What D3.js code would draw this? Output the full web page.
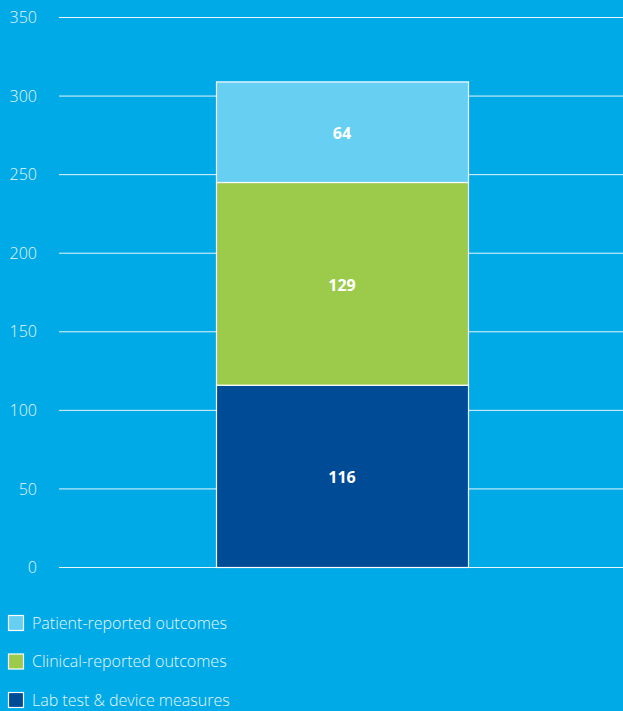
<!DOCTYPE html>
<html><head><meta charset="utf-8">
<script src="https://cdn.jsdelivr.net/npm/d3@7"></script>
<style>
html,body{margin:0;padding:0;background:#00aae6;}
svg{display:block;font-family:"Open Sans",sans-serif;}
</style></head>
<body>
<svg id="c" width="623" height="711"></svg>
<script>
const categories = ["All"];
const seriesNames = ["Lab test & device measures","Clinical-reported outcomes","Patient-reported outcomes"];
const seriesValues = [116,129,64];
const seriesColors = ["#004b96","#9ccb4b","#67cff2"];
const yTicks = [0,50,100,150,200,250,300,350];
const legendOrder = ["Patient-reported outcomes","Clinical-reported outcomes","Lab test & device measures"];

const svg = d3.select("#c");
const y = d3.scaleLinear().domain([0,350]).range([567,17]);
const barX0 = 216, barW = 252;

// axis labels
const axis = d3.axisLeft(y).tickValues(yTicks).tickSize(0).tickPadding(0);
const g = svg.append("g").attr("transform","translate(37,0)").call(axis)
  .attr("font-family","'Open Sans',sans-serif");
g.select(".domain").remove();
g.selectAll("text").attr("fill","#e6f6fc").attr("font-size",16).attr("font-weight",300).attr("dy","0.35em");
// gridlines
svg.append("g").selectAll("line").data(yTicks).join("line")
  .attr("x1",59).attr("x2",623).attr("y1",d=>y(d)+0.5).attr("y2",d=>y(d)+0.5)
  .attr("stroke","#ffffff").attr("stroke-width",1).attr("opacity",0.9);

// stacked bar
let cum = 0;
const stacks = seriesValues.map((v,i)=>{const s={v,i,y0:cum,y1:cum+v};cum+=v;return s;});
const bars = svg.append("g");
bars.selectAll("rect").data(stacks).join("rect")
  .attr("x",barX0+0.5).attr("width",barW)
  .attr("y",d=>y(d.y1)+0.5).attr("height",d=>y(d.y0)-y(d.y1))
  .attr("fill",d=>seriesColors[d.i]).attr("stroke","#ffffff").attr("stroke-width",1.2);
bars.selectAll("text").data(stacks).join("text")
  .attr("x",barX0+barW/2).attr("y",d=>(y(d.y0)+y(d.y1))/2)
  .attr("dy","0.45em").attr("text-anchor","middle")
  .attr("fill","#ffffff").attr("font-size",16).attr("font-weight",700)
  .text(d=>d.v);

// legend
const leg = svg.append("g").selectAll("g").data(legendOrder).join("g")
  .attr("transform",(d,i)=>`translate(8,${615+i*38.5})`);
leg.append("rect").attr("x",0.5).attr("y",0.5).attr("width",15).attr("height",15)
  .attr("fill",d=>seriesColors[seriesNames.indexOf(d)]).attr("stroke","#ffffff").attr("stroke-width",1.2);
leg.append("text").attr("x",24).attr("y",8).attr("dy","0.35em")
  .attr("fill","#e6f6fc").attr("font-size",16).attr("font-weight",300).text(d=>d);
</script>
</body></html>
